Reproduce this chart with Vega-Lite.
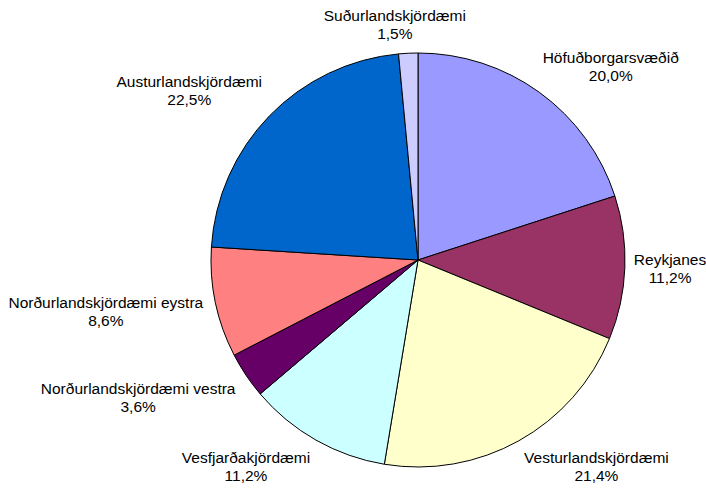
{
  "$schema": "https://vega.github.io/schema/vega-lite/v6.json",
  "width": 576,
  "height": 460,
  "autosize": "none",
  "padding": {"left": 130, "top": 30, "right": 0, "bottom": 0},
  "background": "white",
  "config": {"view": {"stroke": null}},
  "data": {
    "values": [
      {"name": "Höfuðborgarsvæðið", "value": 20.0},
      {"name": "Reykjanes", "value": 11.2},
      {"name": "Vesturlandskjördæmi", "value": 21.4},
      {"name": "Vesfjarðakjördæmi", "value": 11.2},
      {"name": "Norðurlandskjördæmi vestra", "value": 3.6},
      {"name": "Norðurlandskjördæmi eystra", "value": 8.6},
      {"name": "Austurlandskjördæmi", "value": 22.5},
      {"name": "Suðurlandskjördæmi", "value": 1.5}
    ]
  },
  "transform": [
    {"stack": "value", "groupby": [], "as": ["v0", "v1"]},
    {"calculate": "(datum.v0 + datum.v1) / 2", "as": "mid"},
    {"calculate": "datum.name + '\\n' + replace(format(datum.value, '.1f'), '.', ',') + '%'", "as": "label"}
  ],
  "layer": [
    {
      "mark": {"type": "arc", "outerRadius": 207, "stroke": "black", "strokeWidth": 1},
      "encoding": {
        "theta": {"field": "v0", "type": "quantitative", "stack": null, "scale": {"domain": [0, 100]}},
        "theta2": {"field": "v1"},
        "color": {
          "field": "name",
          "type": "nominal",
          "legend": null,
          "scale": {
            "domain": ["Höfuðborgarsvæðið", "Reykjanes", "Vesturlandskjördæmi", "Vesfjarðakjördæmi", "Norðurlandskjördæmi vestra", "Norðurlandskjördæmi eystra", "Austurlandskjördæmi", "Suðurlandskjördæmi"],
            "range": ["#9999FF", "#993366", "#FFFFCC", "#CCFFFF", "#660066", "#FF8080", "#0066CC", "#CCCCFF"]
          }
        }
      }
    },
    {
      "mark": {
        "type": "text",
        "radius": 218,
        "font": "Liberation Sans",
        "fontSize": 15.5,
        "lineHeight": 18,
        "lineBreak": "\n",
        "align": "center",
        "baseline": "middle",
        "color": "black",
        "dx": {"expr": "clamp(sin(datum.mid / 100 * 2 * PI) * 4, -1, 1) * length(datum.name) * 3.8"},
        "dy": {"expr": "-clamp(cos(datum.mid / 100 * 2 * PI) * 2, -1, 1) * 17 - 9"}
      },
      "encoding": {
        "theta": {"field": "mid", "type": "quantitative", "stack": null},
        "text": {"field": "label", "type": "nominal"}
      }
    }
  ]
}
